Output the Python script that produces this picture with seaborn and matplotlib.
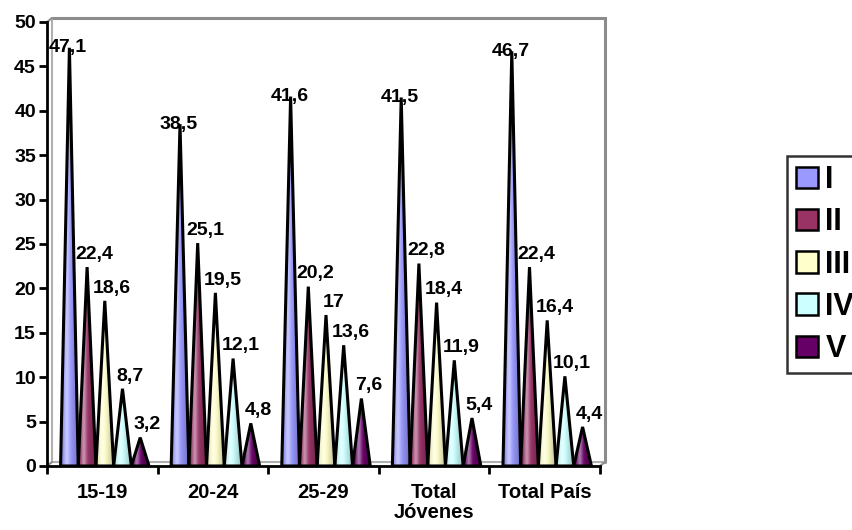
import numpy as np
import pandas as pd
import matplotlib
matplotlib.use("Agg")
import matplotlib.pyplot as plt
import matplotlib.transforms as mtransforms
from matplotlib.patches import Polygon, Patch
from matplotlib.colors import to_rgb
import seaborn as sns

categories = ["15-19", "20-24", "25-29", "Total\nJóvenes", "Total País"]
series = ["I", "II", "III", "IV", "V"]
val_I = [47.1, 38.5, 41.6, 41.5, 46.7]
val_II = [22.4, 25.1, 20.2, 22.8, 22.4]
val_III = [18.6, 19.5, 17.0, 18.4, 16.4]
val_IV = [8.7, 12.1, 13.6, 11.9, 10.1]
val_V = [3.2, 4.8, 7.6, 5.4, 4.4]
colors = ["#9999FF", "#993366", "#FFFFCC", "#CCFFFF", "#660066"]
y_ticks = list(range(0, 51, 5))

values = [val_I, val_II, val_III, val_IV, val_V]
df = pd.DataFrame(
    [(c, s, v) for s, vals in zip(series, values) for c, v in zip(categories, vals)],
    columns=["grupo", "serie", "valor"],
)

sns.set_style("white")
plt.rcParams["font.family"] = ["Liberation Sans", "DejaVu Sans"]
plt.rcParams["font.weight"] = "bold"
plt.rcParams["text.color"] = "black"
plt.rcParams["xtick.color"] = "black"
plt.rcParams["ytick.color"] = "black"
plt.rcParams["axes.labelcolor"] = "black"

fig = plt.figure(figsize=(8.53, 5.30), dpi=100)
ax = fig.add_axes([47 / 853, 64 / 530, 553 / 853, 444 / 530])

sns.barplot(data=df, x="grupo", y="valor", hue="serie", order=categories,
            hue_order=series, palette=colors, width=0.8, ax=ax, legend=False)

ax.set_xlim(-0.5, 4.5)
ax.set_ylim(0, 50)


def shading(color, n=40):
    """Horizontal cone shading: light stripe left of centre, darker flanks."""
    base = np.array(to_rgb(color))
    t = np.linspace(0, 1, n)
    light = 0.45 * np.exp(-((t - 0.32) / 0.16) ** 2)
    dark = 0.28 * np.clip(np.abs(t - 0.4) / 0.6, 0, 1) ** 1.5
    rgb = base[None, :] * (1 - dark[:, None])
    rgb = rgb + (1 - rgb) * light[:, None]
    return rgb[None, :, :]


label_fs = 14
depth = mtransforms.ScaledTranslation(2.5 / 100, 0, fig.dpi_scale_trans)
for k, (container, col) in enumerate(zip(ax.containers, colors)):
    for bar in container:
        x0, w, h = bar.get_x(), bar.get_width(), bar.get_height()
        bar.set_visible(False)
        tr = ax.transData + depth
        tri = Polygon([(x0, 0), (x0 + w / 2, h), (x0 + w, 0)], closed=True,
                      facecolor="none", edgecolor="black", lw=2.2,
                      joinstyle="miter", transform=tr, zorder=4)
        ax.add_patch(tri)
        img = ax.imshow(shading(col), extent=[x0, x0 + w, 0, h],
                        aspect="auto", interpolation="bilinear", zorder=3,
                        transform=tr)
        img.set_clip_path(tri)
        txt = f"{h:.1f}".rstrip("0").rstrip(".").replace(".", ",")
        if k == 0:
            ax.annotate(txt, (x0 + w / 2, h), xytext=(1, 0),
                        textcoords="offset points", ha="center", va="center",
                        fontsize=label_fs, fontweight="bold", zorder=6)
        else:
            ax.annotate(txt, (x0 + w / 2, h), xytext=(7, 3),
                        textcoords="offset points", ha="center", va="bottom",
                        fontsize=label_fs, fontweight="bold", zorder=6)

ax.set_xlim(-0.5, 4.5)
ax.set_ylim(0, 50)

# 3D box: back wall and floor, shifted up and right
back = mtransforms.ScaledTranslation(5 / 100, 4 / 100, fig.dpi_scale_trans)
tb = ax.transData + back
gray = "#8c8c8c"
ax.plot([-0.5, 4.5, 4.5], [50, 50, 0], color=gray, lw=2.2, transform=tb,
        clip_on=False, zorder=1, solid_joinstyle="miter")
ax.plot([-0.5, -0.5, 4.5], [50, 0, 0], color="#b0b0b0", lw=1.5, transform=tb,
        clip_on=False, zorder=1)
for (xa, ya) in [(-0.5, 50), (-0.5, 0), (4.5, 0)]:
    p0 = ax.transData.transform((xa, ya))
    p1 = tb.transform((xa, ya))
    ax.plot([p0[0], p1[0]], [p0[1], p1[1]], color=gray, lw=1.5,
            transform=None, clip_on=False, zorder=1)

for s in ["top", "right"]:
    ax.spines[s].set_visible(False)
for s in ["left", "bottom"]:
    ax.spines[s].set_color("black")
    ax.spines[s].set_linewidth(2)
    ax.spines[s].set_zorder(7)

ax.set_yticks(y_ticks)
ax.set_yticklabels([str(v) for v in y_ticks], fontsize=14, fontweight="bold")
ax.tick_params(axis="y", direction="out", length=6, width=2, color="black",
               pad=2, left=True)
ax.set_xticks(range(len(categories)))
ax.set_xticklabels(categories, fontsize=14.5, fontweight="bold",
                   linespacing=1.1)
ax.set_xticks(np.arange(-0.5, len(categories)), minor=True)
ax.tick_params(axis="x", which="major", length=0, pad=12)
ax.tick_params(axis="x", which="minor", direction="out", length=6, width=2,
               color="black", bottom=True)
ax.set_xlabel("")
ax.set_ylabel("")
ax.grid(False)
ax.set_facecolor("white")

handles = [Patch(facecolor=c, edgecolor="black", lw=1.8) for c in colors]
leg = fig.legend(handles, series, loc="upper left",
                 bbox_to_anchor=(787 / 853, 1 - 156 / 530),
                 prop={"weight": "bold", "size": 22}, frameon=True,
                 fancybox=False, edgecolor="black", handlelength=0.7,
                 handleheight=0.7, handletextpad=0.26, labelspacing=0.4,
                 borderpad=0.3, borderaxespad=0)
leg.get_frame().set_linewidth(1.8)

fig.savefig("out.png", dpi=100, facecolor="white")
